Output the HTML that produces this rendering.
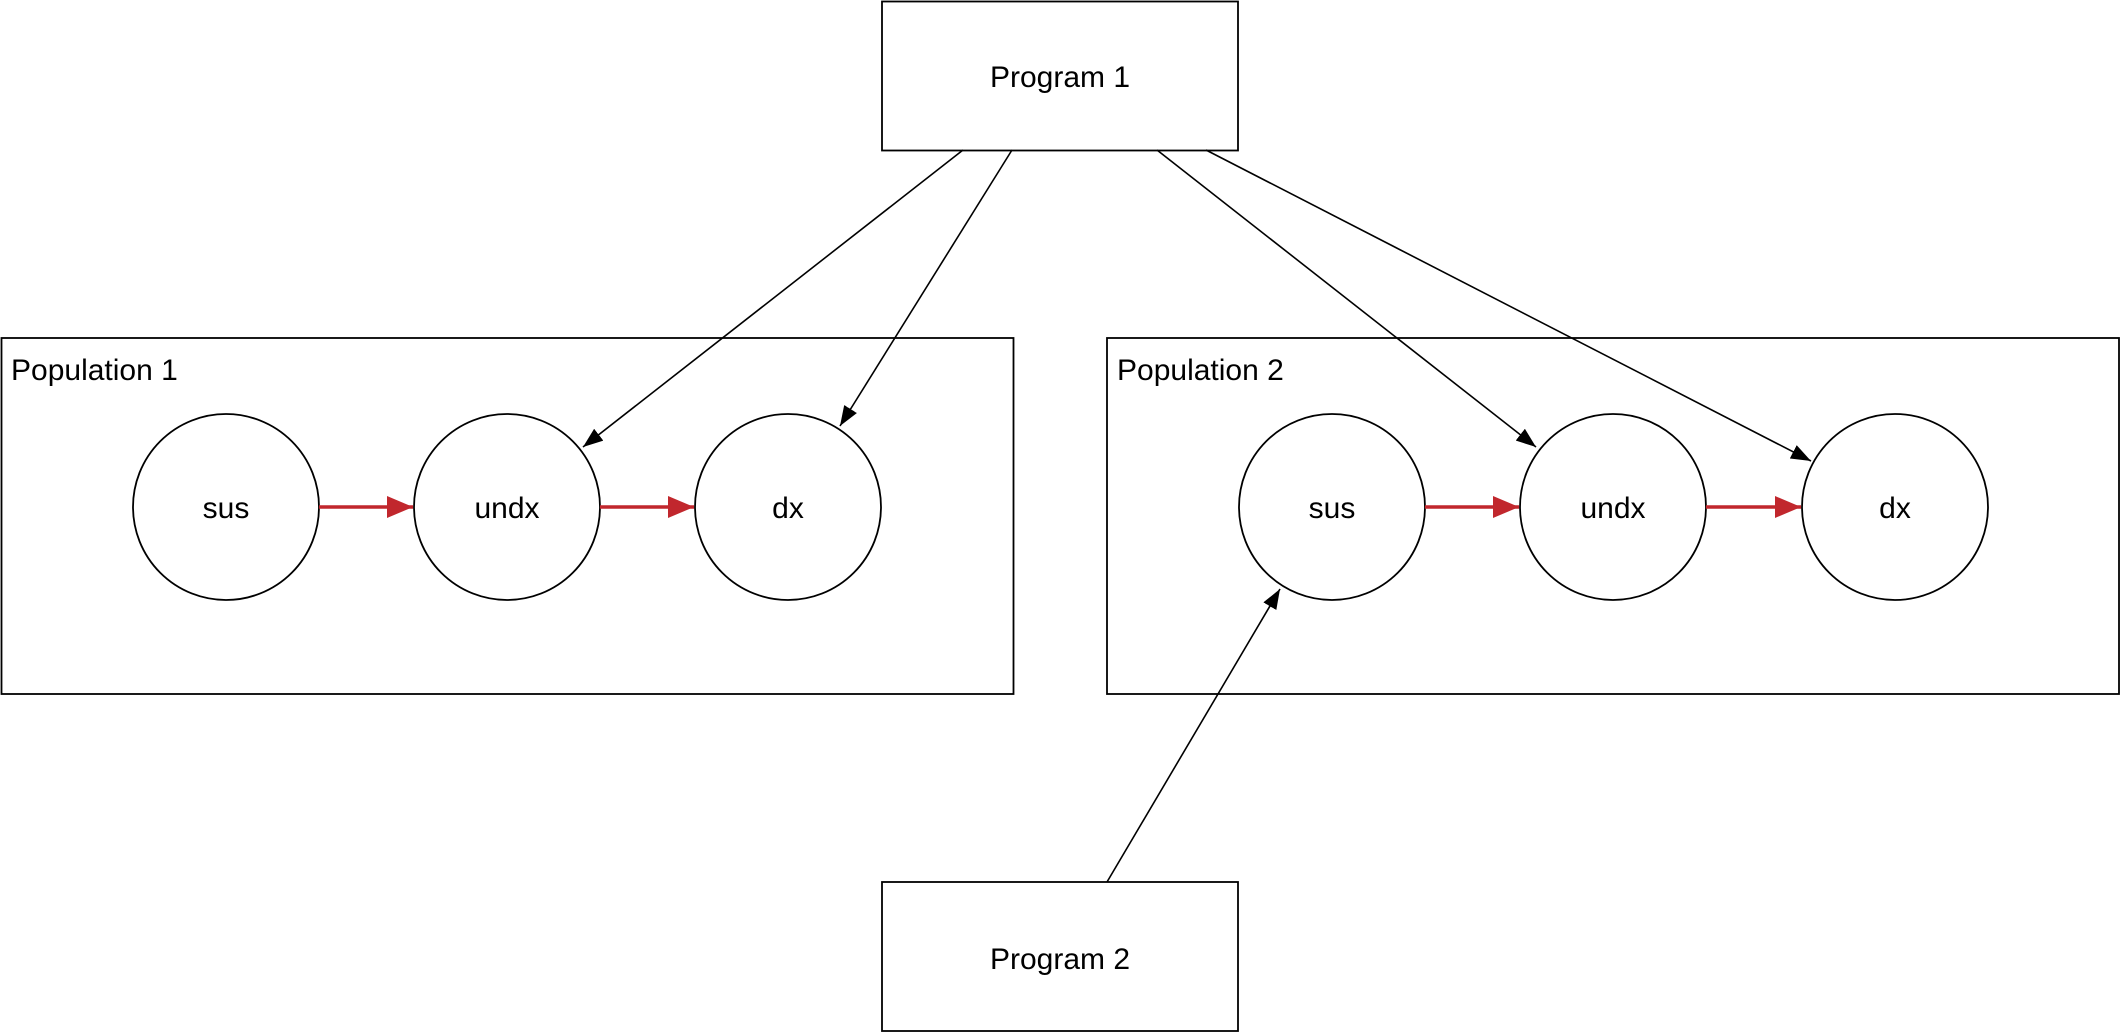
<!DOCTYPE html>
<html><head><meta charset="utf-8"><style>html,body{margin:0;padding:0;background:#fff;}svg{display:block}</style></head>
<body>
<svg width="2122" height="1034" viewBox="0 0 2122 1034" xmlns="http://www.w3.org/2000/svg" font-family="Liberation Sans, sans-serif">
<defs>
<marker id="b" viewBox="0 0 10 10" refX="10" refY="5" markerWidth="20" markerHeight="15" orient="auto" markerUnits="userSpaceOnUse" preserveAspectRatio="none"><path d="M0,0 L10,5 L0,10 z" fill="#000"/></marker>
<marker id="r" viewBox="0 0 10 10" refX="10" refY="5" markerWidth="26" markerHeight="22" orient="auto" markerUnits="userSpaceOnUse" preserveAspectRatio="none"><path d="M0,0 L10,5 L0,10 z" fill="#c1272d"/></marker>
</defs>
<g fill="#fff" stroke="#000" stroke-width="1.8">
<rect x="882" y="1.5" width="356" height="149"/>
<rect x="1.5" y="338" width="1012" height="356"/>
<rect x="1107" y="338" width="1012" height="356"/>
<rect x="882" y="882" width="356" height="149"/>
<circle cx="226" cy="507" r="93"/><circle cx="507" cy="507" r="93"/><circle cx="788" cy="507" r="93"/>
<circle cx="1332" cy="507" r="93"/><circle cx="1613" cy="507" r="93"/><circle cx="1895" cy="507" r="93"/>
</g>
<g stroke="#000" stroke-width="1.6" marker-end="url(#b)" fill="none">
<line x1="963" y1="150" x2="583" y2="447"/>
<line x1="1012" y1="150" x2="840" y2="426"/>
<line x1="1157" y1="150" x2="1536" y2="447"/>
<line x1="1206" y1="150" x2="1811" y2="461"/>
<line x1="1107" y1="882" x2="1280" y2="589"/>
</g>
<g stroke="#c1272d" stroke-width="3.5" marker-end="url(#r)">
<line x1="319" y1="507" x2="413" y2="507"/>
<line x1="600" y1="507" x2="694" y2="507"/>
<line x1="1425" y1="507" x2="1519" y2="507"/>
<line x1="1706" y1="507" x2="1801" y2="507"/>
</g>
<g font-size="30" fill="#000" text-anchor="middle">
<text x="1060" y="87">Program 1</text>
<text x="1060" y="969">Program 2</text>
<text x="226" y="518">sus</text><text x="507" y="518">undx</text><text x="788" y="518">dx</text>
<text x="1332" y="518">sus</text><text x="1613" y="518">undx</text><text x="1895" y="518">dx</text>
</g>
<g font-size="30" fill="#000">
<text x="11" y="380">Population 1</text>
<text x="1117" y="380">Population 2</text>
</g>
</svg>
</body></html>
